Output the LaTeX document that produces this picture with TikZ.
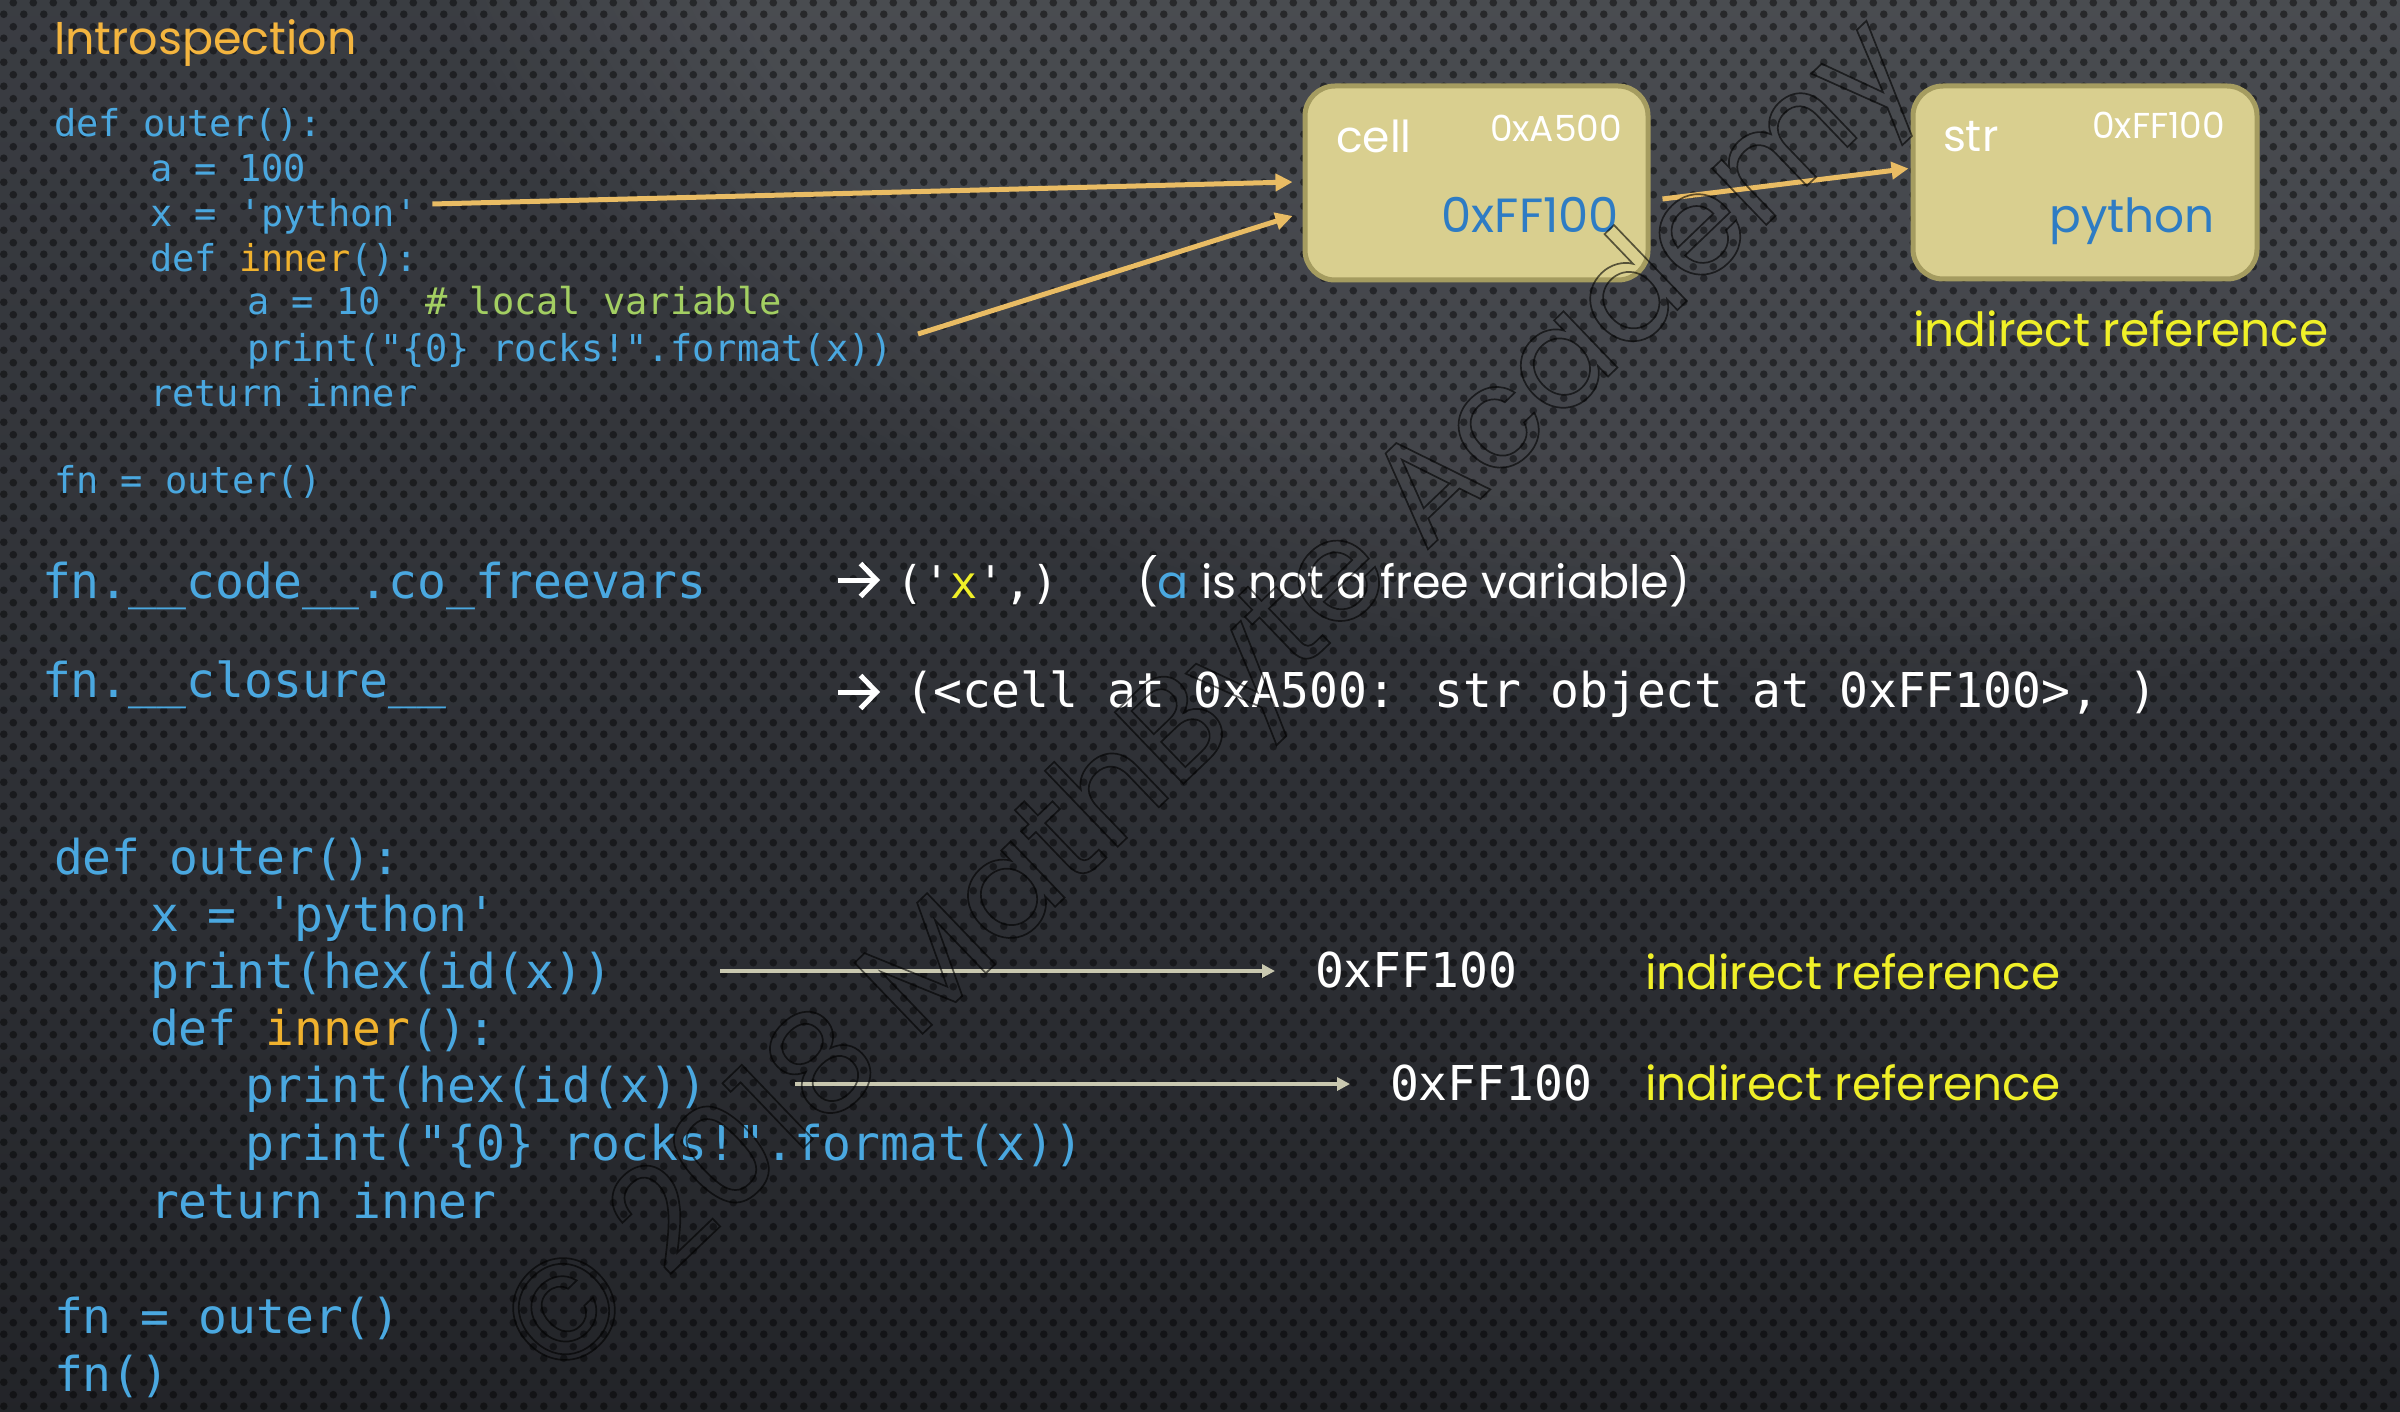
\documentclass[tikz,border=0pt]{standalone}
\usepackage{fontspec}
\usepackage{graphicx}
\usetikzlibrary{arrows.meta,calc,patterns.meta,fadings}
\newfontfamily\mono{DejaVu Sans Mono}[Ligatures=TeXOff]
\newfontfamily\gothic{Poppins}
\definecolor{bgtop}{HTML}{45484E}
\definecolor{bgmid}{HTML}{2B2D32}
\definecolor{bgbot}{HTML}{141518}
\definecolor{codeblue}{HTML}{4AA8E0}
\definecolor{innerc}{HTML}{F0B22E}
\definecolor{commentc}{HTML}{A3CF62}
\definecolor{titlec}{HTML}{F4B53F}
\definecolor{refyellow}{HTML}{F0F028}
\definecolor{boxfill}{HTML}{D9CF8F}
\definecolor{boxline}{HTML}{A59C60}
\definecolor{boxblue}{HTML}{2E7CC4}
\definecolor{goldc}{HTML}{E9BC64}
\definecolor{grayc}{HTML}{C9C8B0}
\pgfdeclareverticalshading{bgshade}{100bp}{color(0bp)=(bgbot); color(40bp)=(bgmid); color(100bp)=(bgtop)}
\tikzdeclarepattern{
  name=bgdots,
  type=uncolored,
  bottom left={(0pt,0pt)},
  top right={(20pt,24pt)},
  tile size={(20pt,24pt)},
  code={
    \fill (5pt,6pt) circle[radius=4pt];
    \fill (15pt,18pt) circle[radius=4pt];
  }
}
\tikzset{
  txt/.style={inner sep=0pt, outer sep=0pt, anchor=base west},
  codeA/.style={txt, font=\mono\fontsize{37}{37}\selectfont, text=codeblue},
  codeB/.style={txt, font=\mono\fontsize{48}{48}\selectfont, text=codeblue},
  codeC/.style={txt, font=\mono\fontsize{48}{48}\selectfont, text=codeblue},
  gothicA/.style={txt, font=\gothic\fontsize{44}{44}\selectfont, text=white},
  chevarrow/.style={draw=white, line width=5pt, -{Straight Barb[length=16pt,width=33pt]}},
  refnote/.style={txt, font=\gothic\fontsize{47}{47}\selectfont, text=refyellow},
  membox/.style={draw=boxline, line width=5pt, fill=boxfill, rounded corners=30pt, inner sep=0pt},
  goldarrow/.style={draw=goldc, line width=5pt, -{Triangle[length=17pt,width=17pt]}},
  grayarrow/.style={draw=grayc, line width=4pt, -{Triangle[length=13pt,width=13pt]}},
}
\begin{document}
\begin{tikzpicture}[x=1pt,y=-1pt]
\useasboundingbox (0,0) rectangle (2400,1412);
% background
\shade[shading=bgshade] (0,0) rectangle (2400,1412);
\fill[white, fill opacity=0.08, path fading=circle with fuzzy edge 20 percent] (1900,-200) ellipse [x radius=1500, y radius=900];
\fill[pattern=bgdots, pattern color=black, fill opacity=0.45] (0,0) rectangle (2400,1412);

% title
\node[txt, font=\gothic\fontsize{46}{46}\selectfont, text=titlec] (title) at (54,55) {Introspection};

% top code
\node[codeA] (a1) at (54,137) {def outer():};
\node[codeA] (a2) at (150,182) {a = 100};
\node[codeA] (a3) at (150,227) {x = 'python'};
\node[codeA] (a4) at (150,272) {def \textcolor{innerc}{inner}():};
\node[codeA] (a5) at (247,315) {a = 10\ \ \textcolor{commentc}{\# local variable}};
\node[codeA] (a6) at (247,362) {print("\{0\} rocks!".format(x))};
\node[codeA] (a7) at (150,406) {return inner};
\node[codeA] (a8) at (54,493) {fn = outer()};

% memory boxes
\node[membox, minimum width=343, minimum height=194] (cell) at (1476.5,183) {};
\node[membox, minimum width=344, minimum height=193] (str) at (2085,182.5) {};
\node[gothicA] (celllbl) at (1336,153) {cell};
\node[txt, anchor=base east, font=\gothic\fontsize{36}{36}\selectfont, text=white] (celladdr) at (1622,142) {0xA500};
\node[txt, anchor=base east, font=\gothic\fontsize{48}{48}\selectfont, text=boxblue] (cellval) at (1619,233) {0xFF100};
\node[gothicA] (strlbl) at (1943,152) {str};
\node[txt, anchor=base east, font=\gothic\fontsize{36}{36}\selectfont, text=white] (straddr) at (2225,139) {0xFF100};
\node[txt, anchor=base east, font=\gothic\fontsize{47}{47}\selectfont, text=boxblue] (strval) at (2215,233) {python};
\node[refnote] (ref0) at (1913,347) {indirect reference};

% gold arrows
\draw[goldarrow] ($(a3.base east)+(15,-23)$) -- ($(cell.west)+(-10,-1)$);
\draw[goldarrow] ($(a6.base east)+(25,-28)$) -- ($(cell.west)+(-10,33)$);
\draw[goldarrow] ($(cell.east)+(12,16)$) -- ($(str.west)+(-2,-14)$);

% middle
\node[codeB] (m1) at (42,598) {fn.\_\_code\_\_.co\_freevars};
\node[txt, font=\mono\fontsize{45}{45}\selectfont, text=white] (m1b) at (896,598) {('\textcolor{refyellow}{x}',)};
\node[txt, font=\gothic\fontsize{46}{46}\selectfont, text=white] (m1c) at (1137,598) {(\textcolor{codeblue}{a} is not a free variable)};
\node[codeB] (m2) at (42,697) {fn.\_\_closure\_\_};
\node[codeB, text=white] (m2b) at (905,707) {(<cell at 0xA500: str object at 0xFF100>, )};
\coordinate (r1s) at (838,580);
\coordinate (r1e) at (880,580);
\coordinate (r2s) at (838,692);
\coordinate (r2e) at (880,692);
\draw[chevarrow] (r1s) -- (r1e);
\draw[chevarrow] (r2s) -- (r2e);

% bottom code
\node[codeC] (b1) at (54,874) {def outer():};
\node[codeC] (b2) at (150,931) {x = 'python'};
\node[codeC] (b3) at (150,988) {print(hex(id(x))};
\node[codeC] (b4) at (150,1045) {def \textcolor{innerc}{inner}():};
\node[codeC] (b5) at (245,1102) {print(hex(id(x))};
\node[codeC] (b6) at (245,1160) {print("\{0\} rocks!".format(x))};
\node[codeC] (b7) at (150,1218) {return inner};
\node[codeC] (b8) at (54,1333) {fn = outer()};
\node[codeC] (b9) at (54,1391) {fn()};

\node[codeC, text=white] (hx1) at (1315,987) {0xFF100};
\node[codeC, text=white] (hx2) at (1390,1100) {0xFF100};
\node[refnote] (ref1) at (1645,989) {indirect reference};
\node[refnote] (ref2) at (1645,1100) {indirect reference};
\draw[grayarrow] ($(b3.base east)+(108,-17)$) -- ($(hx1.base west)+(-40,-16)$);
\draw[grayarrow] ($(b5.base east)+(88,-18)$) -- ($(hx2.base west)+(-40,-16)$);

% watermark (outlined text)
\begin{scope}[opacity=0.6]
\node[inner sep=0pt, rotate=43.8, text=black] (wm) at (1216,705) {\resizebox{1890pt}{!}{\gothic\fontsize{136}{136}\selectfont\special{pdf:literal direct 1 Tr 1.6 w}© 2018 MathByte Academy\special{pdf:literal direct 0 Tr}}};
\end{scope}
\end{tikzpicture}
\end{document}
